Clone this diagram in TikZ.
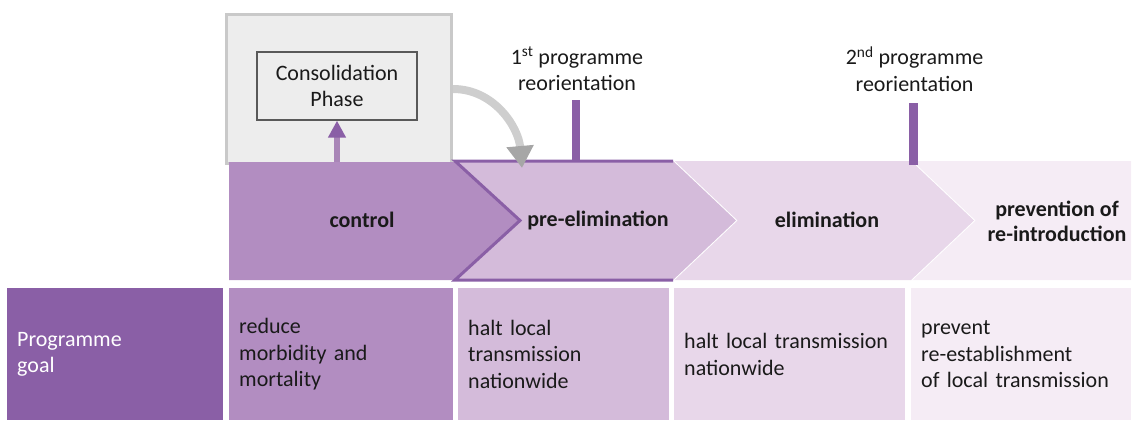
\documentclass[tikz,border=0pt]{standalone}
\usepackage{fontspec}
\setmainfont{Carlito}
\usetikzlibrary{arrows.meta}
\definecolor{goalc}{HTML}{8A5FA6}
\definecolor{ctrlc}{HTML}{B28DC1}
\definecolor{prec}{HTML}{D4BBDA}
\definecolor{elimc}{HTML}{E8D7EA}
\definecolor{prevc}{HTML}{F5ECF5}
\definecolor{boxfill}{HTML}{EDEDED}
\definecolor{boxline}{HTML}{C9C9C9}
\definecolor{txt}{HTML}{1A1A1A}
\tikzset{
  txtfont/.style={font=\fontsize{22}{26.5}\selectfont, text=txt},
  chevtext/.style={txtfont, font=\fontsize{22}{25}\selectfont\bfseries, align=center},
  goalcell/.style={txtfont, anchor=north west, minimum height=132pt, inner xsep=10pt, align=left},
  reolabel/.style={txtfont, align=center},
  uparrow/.style={line width=5.5pt, color=ctrlc!95!black, -{Triangle[length=17pt,width=17pt,color=goalc]}},
  grayarrow/.style={line width=8pt, color=boxline!90!white, -{Triangle[length=22pt,width=26pt,color=black!35]}}
}
\begin{document}
\begin{tikzpicture}[x=1pt,y=-1pt]
  \useasboundingbox (0,0) rectangle (1133,421);
  % consolidation box
  \node[draw=boxline, line width=3pt, fill=boxfill, minimum width=225pt, minimum height=149pt, anchor=north west] (consol) at (225,13) {};
  \node[draw=black!65, line width=1.3pt, minimum width=160pt, minimum height=68pt, align=center, txtfont] (phase) at (337,86) {Consolidation\\Phase};
  % chevrons
  \fill[prevc] (911,161) -- (1131,161) -- (1131,280) -- (911,280) -- (974,220.5) -- cycle;
  \draw[white, line width=2pt] (911,161) -- (974,220.5) -- (911,280);
  \fill[elimc] (673,161) -- (911,161) -- (974,220.5) -- (911,280) -- (673,280) -- (736,220.5) -- cycle;
  \draw[white, line width=2pt] (673,161) -- (736,220.5) -- (673,280);
  \fill[prec] (455,161) -- (673,161) -- (736,220.5) -- (673,280) -- (455,280) -- (520,220.5) -- cycle;
  \fill[ctrlc] (229,162) -- (455,162) -- (520,220.5) -- (455,280) -- (229,280) -- cycle;
  \draw[goalc, line width=3pt] (673,161) -- (455,161) -- (520,220.5) -- (455,280) -- (673,280);
  \coordinate (ctrltop) at (229,162);
  \coordinate (reotip) at (522,168);
  \node[chevtext] (ctrl) at (362,220) {control};
  \node[chevtext] (pre) at (598,220) {pre-elimination};
  \node[chevtext] (elim) at (827,220) {elimination};
  \node[chevtext] (prev) at (1057,221) {prevention of\\re-introduction};
  % arrows
  \draw[uparrow] (phase.south |- ctrltop) -- (phase.south);
  \draw[grayarrow] (consol.east) to[out=0, in=95] (reotip);
  % reorientations
  \foreach \n/\x/\top/\bot/\num/\ord in {reoa/576/100/161/1/st, reob/913.5/103/165/2/nd} {
    \fill[goalc] (\x-4.3,\top) rectangle (\x+4.3,\bot);
    \node[reolabel] (\n) at (\x+1,69) {\num\textsuperscript{\ord} programme\\reorientation};
  }
  % goal row
  \node[goalcell, fill=goalc, text width=196pt, text=white] (goal) at (7,288) {Programme\\goal};
  \node[goalcell, fill=ctrlc, text width=204pt] (gctrl) at (229,288) {reduce\\morbidity and\\mortality};
  \node[goalcell, fill=prec, text width=191pt] (gpre) at (458,288) {halt local\\transmission\\nationwide};
  \node[goalcell, fill=elimc, text width=211pt] (gelim) at (674,288) {halt local transmission\\nationwide};
  \node[goalcell, fill=prevc, text width=200pt] (gprev) at (911,288) {prevent\\re-establishment\\of local transmission};
\end{tikzpicture}
\end{document}
